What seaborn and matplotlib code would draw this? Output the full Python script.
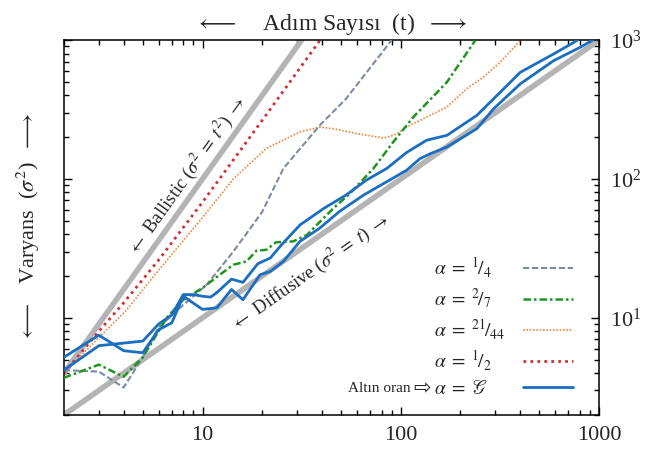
import matplotlib
matplotlib.use('Agg')
import matplotlib.pyplot as plt
import matplotlib.ticker as mticker
import seaborn as sns

# values (t = steps, v = variance)
ballistic_t = [2, 32]
ballistic_v = [4, 1024]
diffusive_t = [2, 1000]
diffusive_v = [2, 1000]

quarter_t = [2, 3, 4, 5, 6, 8, 10.5, 14.3, 17, 20, 25.6, 39, 53, 90]
quarter_v = [4.2, 4.1, 3.15, 5.2, 8.5, 12.4, 17.3, 30, 42, 58, 119, 243, 378, 1000]

twoseven_t = [2, 3, 4, 5, 6.6, 8, 10, 12.2, 14.3, 16.7, 18.7, 21, 23.5, 28.7, 33.6,
              45.7, 55.5, 72.8, 91.8, 116, 171, 237]
twoseven_v = [3.7, 4.6, 3.76, 5.2, 10, 13.5, 16.4, 20.4, 24.1, 25.5, 30.4, 30.9, 35, 35.5, 39.5,
              61.5, 78.7, 119, 185, 280, 498, 990]

orange_t = [2, 3, 4.1, 6, 9.7, 14.3, 21, 31, 39, 45.7, 60, 81.7, 92, 107, 135, 171,
            215, 261, 317, 401]
orange_v = [4.0, 7.2, 11.2, 22, 50, 100, 166, 218, 236, 230, 212, 197, 206, 236, 279, 330,
            446, 541, 692, 990]

half_t = [2, 3, 4, 6, 10, 20, 40]
half_v = [4.0, 8.0, 12.8, 26, 68, 264, 1040]

golden1_t = [2, 3, 5, 6, 7, 8, 9, 10, 11, 12, 14, 16, 19, 22, 25, 31, 41, 53, 67, 85,
             107, 135, 171, 242, 294, 401, 590, 745, 780]
golden1_v = [4.2, 6.3, 6.8, 9, 10.5, 14.7, 14.7, 14.3, 14.1, 15.5, 19, 18, 24.5, 27, 33.5,
             46.6, 61.5, 76.6, 98, 119, 155, 190, 206, 287, 378, 586, 794, 961, 1000]

golden2_t = [2, 3, 4, 5, 6, 7, 8, 10, 11.8, 14, 16, 19.5, 22, 25.6, 31, 39, 49, 65, 85,
             107, 125, 141, 171, 242, 294, 401, 590, 804, 930]
golden2_v = [5.2, 7.5, 5.8, 5.6, 8.2, 9.2, 14.3, 11.5, 11.8, 16, 13.5, 20.4, 21.6, 25.5,
             35.5, 44.2, 58.2, 76.6, 95.5, 115.5, 140, 152, 170, 230, 320, 484, 710, 887, 1000]

labels = [r'$\alpha\;=\;{}^{1}\!/_{4}$', r'$\alpha\;=\;{}^{2}\!/_{7}$',
          r'$\alpha\;=\;{}^{21}\!/_{44}$', r'$\alpha\;=\;{}^{1}\!/_{2}$',
          r'$\alpha\;=\;\mathscr{G}$']

sns.set_style('ticks')
plt.rcParams['font.family'] = 'serif'
plt.rcParams['font.serif'] = ['Liberation Serif', 'DejaVu Serif']
plt.rcParams['mathtext.fontset'] = 'stix'

fig = plt.figure(figsize=(6.59, 4.5), dpi=100)
ax = fig.add_axes([0.097, 0.078, 0.812, 0.833])


def draw(t, v, **kw):
    sns.lineplot(x=t, y=v, ax=ax, sort=False, estimator=None, **kw)
    return ax.lines[-1]


gray = '#b4b4b4'
draw(ballistic_t, ballistic_v, color=gray, lw=4, zorder=1)
draw(diffusive_t, diffusive_v, color=gray, lw=4, zorder=1)

h_half = draw(half_t, half_v, color='#cc3333', lw=2, ls=(0, (1, 1.5)), zorder=2)
h_orange = draw(orange_t, orange_v, color='#f0883c', lw=1.2, ls=(0, (1, 1)), zorder=2)
h_quarter = draw(quarter_t, quarter_v, color='#7d8ba5', lw=1.5, ls=(0, (3, 1.3)), zorder=3)
h_27 = draw(twoseven_t, twoseven_v, color='#1e961e', lw=1.8, ls=(0, (3, 1.2, 1, 1.2)), zorder=3)
h_gold = draw(golden1_t, golden1_v, color='#1b6ec2', lw=2, zorder=4)
draw(golden2_t, golden2_v, color='#1b6ec2', lw=2, zorder=4)

ax.set_xscale('log')
ax.set_yscale('log')
ax.set_xlim(2, 1000)
ax.set_ylim(2, 1000)

ax.xaxis.set_major_locator(mticker.FixedLocator([10, 100, 1000]))
ax.xaxis.set_major_formatter(mticker.FuncFormatter(lambda v, p: f'{v:g}'))
ax.xaxis.set_minor_formatter(mticker.NullFormatter())
ax.yaxis.set_minor_formatter(mticker.NullFormatter())

ax.tick_params(which='both', direction='in', top=True, bottom=True, left=True, right=True,
               labelleft=False, labelright=True, labeltop=False, labelbottom=True,
               width=1, color='black')
ax.tick_params(which='major', length=6, labelsize=16, pad=8)
ax.tick_params(which='minor', length=3.5)
for s in ax.spines.values():
    s.set_linewidth(1.1)
    s.set_color('black')

ax.set_xlabel(r'$\longleftarrow$    Adım Sayısı  (t)  $\longrightarrow$', fontsize=17, labelpad=7)
ax.xaxis.set_label_position('top')
ax.set_ylabel(r'$\longleftarrow$   Varyans  ($\sigma^2$)  $\longrightarrow$', fontsize=16, labelpad=16)
ax.yaxis.set_label_position('left')

ax.text(8.3, 106, r'$\leftarrow$ Ballistic ($\sigma^2\;=\;t^2$) $\rightarrow$', rotation=54.5,
        rotation_mode='anchor', ha='center', va='center', fontsize=13.5)
ax.text(34.8, 21.4, r'$\leftarrow$ Diffusive ($\sigma^2\;=\;t$) $\rightarrow$', rotation=35,
        rotation_mode='anchor', ha='center', va='center', fontsize=13.5)

leg = ax.legend([h_quarter, h_27, h_orange, h_half, h_gold], labels, loc='lower right',
                bbox_to_anchor=(0.977, 0.01), frameon=False, markerfirst=False, fontsize=14,
                handlelength=2.6, handletextpad=0.9, labelspacing=0.33, borderaxespad=0.3)

# left-align the legend texts (markerfirst=False right-aligns them)
fig.canvas.draw()
r = fig.canvas.get_renderer()
widths = [t.get_window_extent(r).width for t in leg.get_texts()]
for t, w in zip(leg.get_texts(), widths):
    t.set_x(w - max(widths))

arrow = ax.annotate('⇨', xy=(0, 0.5), xycoords=leg.get_texts()[-1],
                    xytext=(-2, 0), textcoords='offset points', ha='right', va='center',
                    fontsize=15, family=['DejaVu Sans'])
ax.annotate('Altın oran', xy=(0, 0.5), xycoords=arrow,
            xytext=(-2, 0), textcoords='offset points', ha='right', va='center',
            fontsize=11)

fig.savefig('out.png', dpi=100)
